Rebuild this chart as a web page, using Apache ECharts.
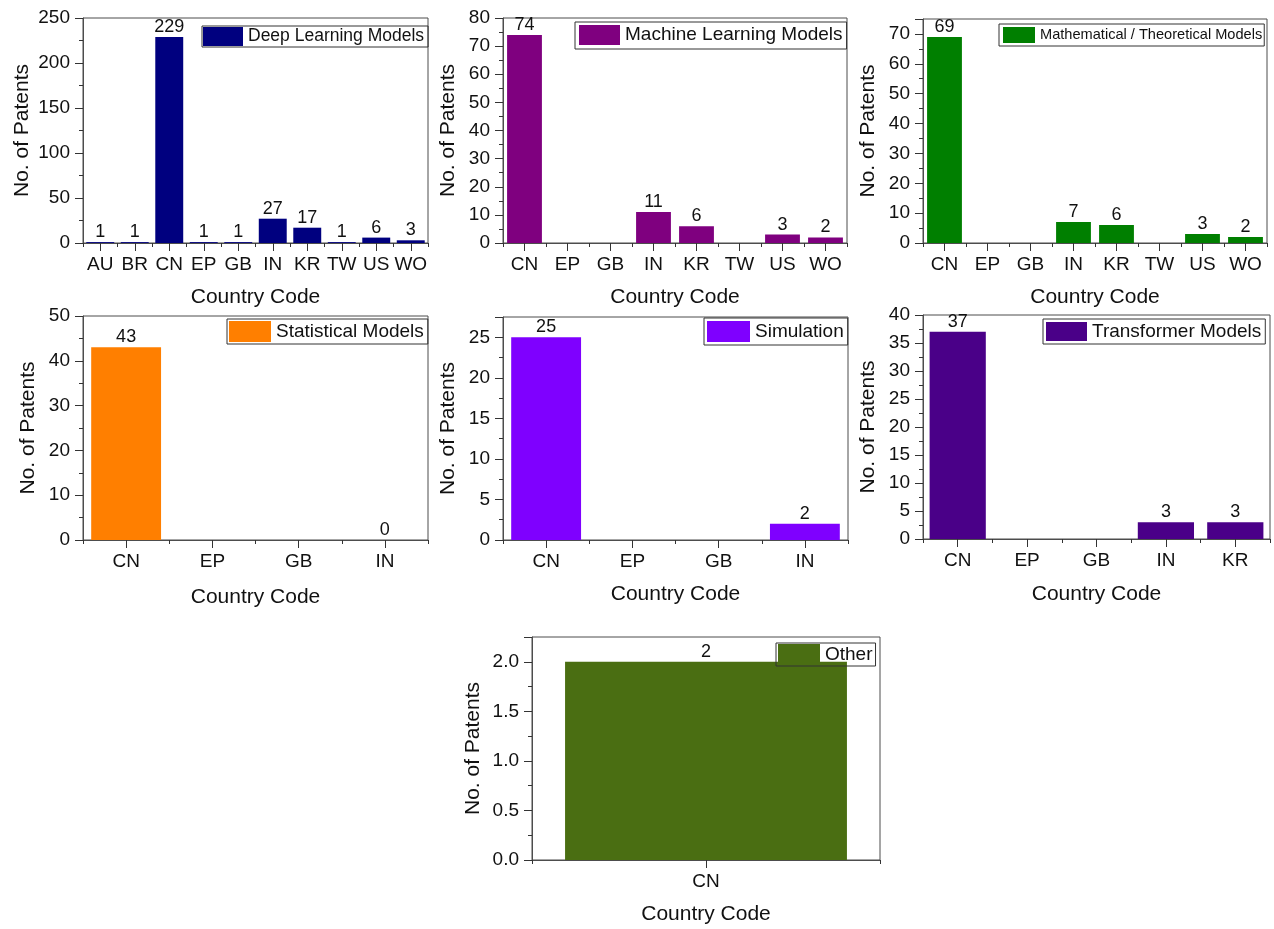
<!DOCTYPE html>
<html>
<head>
<meta charset="utf-8">
<title>Patents by Country Code and Model Type</title>
<script src="https://cdn.jsdelivr.net/npm/echarts@6/dist/echarts.min.js"></script>
<style>
  html, body { margin: 0; padding: 0; background: #ffffff; }
  #chart { width: 1274px; height: 929px; }
</style>
</head>
<body>
<div id="chart"></div>
<script>
// Patent counts per country code, one panel per model category
const deepCats = ['AU', 'BR', 'CN', 'EP', 'GB', 'IN', 'KR', 'TW', 'US', 'WO'];
const deepValues = [1, 1, 229, 1, 1, 27, 17, 1, 6, 3];

const mlCats = ['CN', 'EP', 'GB', 'IN', 'KR', 'TW', 'US', 'WO'];
const mlValues = [74, null, null, 11, 6, null, 3, 2];

const mathCats = ['CN', 'EP', 'GB', 'IN', 'KR', 'TW', 'US', 'WO'];
const mathValues = [69, null, null, 7, 6, null, 3, 2];

const statCats = ['CN', 'EP', 'GB', 'IN'];
const statValues = [43, null, null, 0];

const simCats = ['CN', 'EP', 'GB', 'IN'];
const simValues = [25, null, null, 2];

const transCats = ['CN', 'EP', 'GB', 'IN', 'KR'];
const transValues = [37, null, null, 3, 3];

const otherCats = ['CN'];
const otherValues = [2];

const seriesNames = [
  'Deep Learning Models', 'Machine Learning Models', 'Mathematical / Theoretical Models',
  'Statistical Models', 'Simulation', 'Transformer Models', 'Other'
];

// Y-axis ranges: [max, major interval, decimals]
const yScales = [
  [250, 50, 0], [80, 10, 0], [75, 10, 0],
  [50, 10, 0], [27.5, 5, 0], [40, 5, 0], [2.25, 0.5, 1]
];

const FONT = "'Liberation Sans', Arial, Helvetica, sans-serif";
const TXT = '#111111';
const FRAME = '#4d4d4d';

// Panel layout and styling
const panels = [
  { cats: deepCats,  vals: deepValues,  color: '#00007f', grid: [83, 18, 345, 225],
    yGap: 50, xGap: 44, legend: { left: 202, top: 26, w: 40, h: 19, fs: 17.5, pad: [1, 4, 1, 1] } },
  { cats: mlCats,    vals: mlValues,    color: '#7f007f', grid: [503, 18, 344, 225],
    yGap: 44, xGap: 44, legend: { left: 575, top: 22, w: 41, h: 20, fs: 19, pad: [3, 4, 4, 4] } },
  { cats: mathCats,  vals: mathValues,  color: '#007f00', grid: [923, 19, 344, 224],
    yGap: 44, xGap: 44, legend: { left: 999, top: 24, w: 32, h: 16, fs: 14.6, pad: [3, 2, 3, 4] } },
  { cats: statCats,  vals: statValues,  color: '#ff7f00', grid: [83, 316, 345, 224],
    yGap: 44, xGap: 47, legend: { left: 227, top: 319, w: 42, h: 21, fs: 19, pad: [2, 4, 2, 2] } },
  { cats: simCats,   vals: simValues,   color: '#7f00ff', grid: [503, 317, 345, 223],
    yGap: 44, xGap: 44, legend: { left: 704, top: 318, w: 43, h: 21, fs: 19, pad: [3, 4, 3, 3] } },
  { cats: transCats, vals: transValues, color: '#4a0088', grid: [923, 315, 347, 224],
    yGap: 44, xGap: 45, legend: { left: 1043, top: 319, w: 41, h: 19, fs: 19, pad: [3, 4, 3, 3] } },
  { cats: otherCats, vals: otherValues, color: '#4a6e12', grid: [532, 637, 348, 223],
    yGap: 48, xGap: 44, legend: { left: 776, top: 643, w: 42, h: 21, fs: 19, pad: [1, 3, 1, 2] } }
];

const option = {
  animation: false,
  backgroundColor: '#ffffff',
  textStyle: { fontFamily: FONT, color: TXT },
  grid: [], xAxis: [], yAxis: [], series: [], legend: []
};

panels.forEach(function (p, i) {
  const [max, step, dec] = yScales[i];
  option.grid.push({
    left: p.grid[0], top: p.grid[1], width: p.grid[2], height: p.grid[3],
    show: true, borderColor: FRAME, borderWidth: 1, backgroundColor: 'transparent'
  });
  // main category axis: labels and ticks at category centres
  option.xAxis.push({
    type: 'category', gridIndex: i, data: p.cats, position: 'bottom',
    axisLine: { show: true, lineStyle: { color: FRAME, width: 1 } },
    axisTick: { show: true, alignWithLabel: true, length: 8, inside: false, lineStyle: { color: '#333' } },
    axisLabel: { interval: 0, fontSize: 19, margin: 12, color: TXT, fontFamily: FONT },
    name: 'Country Code', nameLocation: 'middle', nameGap: p.xGap,
    nameTextStyle: { fontSize: 21, color: TXT, fontFamily: FONT },
    splitLine: { show: false }
  });
  // companion axis: short ticks on category boundaries
  option.xAxis.push({
    type: 'category', gridIndex: i, data: p.cats, position: 'bottom',
    axisLine: { show: false },
    axisTick: { show: true, alignWithLabel: false, interval: 0, length: 4, lineStyle: { color: '#333' } },
    axisLabel: { show: false },
    splitLine: { show: false }
  });
  option.yAxis.push({
    type: 'value', gridIndex: i, min: 0, max: max, interval: step,
    axisLine: { show: true, lineStyle: { color: FRAME, width: 1 } },
    axisTick: { show: true, length: 8, lineStyle: { color: '#333' } },
    minorTick: { show: true, splitNumber: 2, length: 4, lineStyle: { color: '#333' } },
    splitLine: { show: false },
    minorSplitLine: { show: false },
    axisLabel: {
      fontSize: 19, margin: 13, color: TXT, fontFamily: FONT,
      showMaxLabel: Math.abs(max / step - Math.round(max / step)) < 1e-9,
      formatter: function (v) { return v.toFixed(dec); }
    },
    name: 'No. of Patents', nameLocation: 'middle', nameGap: p.yGap,
    nameTextStyle: { fontSize: 21, color: TXT, fontFamily: FONT }
  });
  option.series.push({
    type: 'bar', name: seriesNames[i], data: p.vals,
    xAxisIndex: 2 * i, yAxisIndex: i,
    barCategoryGap: '19%',
    itemStyle: { color: p.color },
    label: {
      show: true, position: 'top', distance: 1,
      fontSize: 18, color: TXT, fontFamily: FONT
    }
  });
  option.legend.push({
    data: [seriesNames[i]], left: p.legend.left, top: p.legend.top,
    orient: 'horizontal', padding: p.legend.pad, icon: 'rect',
    itemWidth: p.legend.w, itemHeight: p.legend.h, itemGap: 0,
    borderColor: '#333', borderWidth: 1, selectedMode: false,
    textStyle: { fontSize: p.legend.fs, color: TXT, fontFamily: FONT }
  });
});

const chart = echarts.init(document.getElementById('chart'), null, { renderer: 'canvas' });
chart.setOption(option);
</script>
</body>
</html>
